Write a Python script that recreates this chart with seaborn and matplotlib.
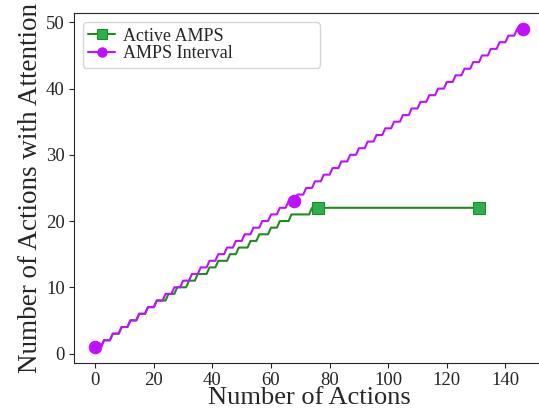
import matplotlib
matplotlib.use("Agg")
import matplotlib.pyplot as plt
import seaborn as sns
import pandas as pd

# number of actions with attention after each action
interval_y = [
    1, 1, 1, 2, 2, 2, 3, 3, 3, 4, 4, 4, 5, 5, 5,
    6, 6, 6, 7, 7, 7, 8, 8, 8, 9, 9, 9, 10, 10, 10,
    11, 11, 11, 12, 12, 12, 13, 13, 13, 14, 14, 14, 15, 15, 15,
    16, 16, 16, 17, 17, 17, 18, 18, 18, 19, 19, 19, 20, 20, 20,
    21, 21, 21, 22, 22, 22, 23, 23, 23, 24, 24, 24, 25, 25, 25,
    26, 26, 26, 27, 27, 27, 28, 28, 28, 29, 29, 29, 30, 30, 30,
    31, 31, 31, 32, 32, 32, 33, 33, 33, 34, 34, 34, 35, 35, 35,
    36, 36, 36, 37, 37, 37, 38, 38, 38, 39, 39, 39, 40, 40, 40,
    41, 41, 41, 42, 42, 42, 43, 43, 43, 44, 44, 44, 45, 45, 45,
    46, 46, 46, 47, 47, 47, 48, 48, 48, 49, 49, 49,
]
active_y = [
    1, 1, 1, 2, 2, 2, 3, 3, 3, 4, 4, 4, 5, 5, 5, 6, 6, 6, 7, 7,
    7, 8, 8, 8, 8, 9, 9, 9, 10, 10, 10, 10, 11, 11, 11, 12, 12, 12, 12, 13,
    13, 13, 14, 14, 14, 14, 15, 15, 15, 16, 16, 16, 16, 17, 17, 17, 18, 18, 18, 18,
    19, 19, 19, 20, 20, 20, 20, 21, 21, 21, 21, 21, 21, 21, 22, 22, 22, 22, 22, 22,
    22, 22, 22, 22, 22, 22, 22, 22, 22, 22, 22, 22, 22, 22, 22, 22, 22, 22, 22, 22,
    22, 22, 22, 22, 22, 22, 22, 22, 22, 22, 22, 22, 22, 22, 22, 22, 22, 22, 22, 22,
    22, 22, 22, 22, 22, 22, 22, 22, 22, 22, 22, 22,
]
interval_marks = [0, 68, 146]
active_marks = [76, 131]

sns.set_style("ticks")
plt.rcParams["font.family"] = ["Liberation Serif", "DejaVu Serif"]

df_int = pd.DataFrame({"actions": range(len(interval_y)), "attn": interval_y})
df_act = pd.DataFrame({"actions": range(len(active_y)), "attn": active_y})

fig, ax = plt.subplots(figsize=(5.39, 4.09), dpi=100)

sns.lineplot(data=df_act, x="actions", y="attn", ax=ax, color="#1e8c1e",
             linewidth=1.5, marker="s", markersize=9, markevery=active_marks,
             markerfacecolor="#2bb04a", markeredgecolor="#1e8c1e",
             label="Active AMPS")
sns.lineplot(data=df_int, x="actions", y="attn", ax=ax, color="#c010ff",
             linewidth=1.5, marker="o", markersize=9, markevery=interval_marks,
             markeredgecolor="#c010ff", label="AMPS Interval")

ax.set_xticks([0, 20, 40, 60, 80, 100, 120, 140])
ax.set_yticks([0, 10, 20, 30, 40, 50])
ax.tick_params(labelsize=13.5, pad=3)
ax.set_xlabel("Number of Actions", fontsize=19, labelpad=-1)
ax.set_ylabel("Number of Actions with Attention", fontsize=19.5, labelpad=2)

ax.legend(loc="upper left", bbox_to_anchor=(0.019, 0.5, 0.504, 0.474),
          mode="expand", borderaxespad=0, fontsize=13, handlelength=1.5,
          borderpad=0.3, labelspacing=0.05, handletextpad=0.4,
          markerscale=0.75, fancybox=True)

fig.subplots_adjust(left=0.137, right=1.01, top=0.968, bottom=0.113)
fig.savefig("out.png", dpi=100)
